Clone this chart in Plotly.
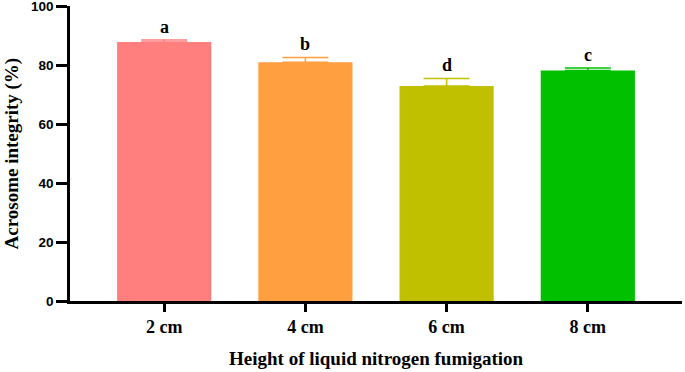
import plotly.graph_objects as go

categories = ["2 cm", "4 cm", "6 cm", "8 cm"]
values = [87.8, 81.0, 72.9, 78.2]
errors = [0.7, 1.6, 2.6, 0.8]
letters = ["a", "b", "d", "c"]
colors = ["#FF7F7F", "#FF9F3F", "#C0C000", "#00C000"]
y_ticks = [0, 20, 40, 60, 80, 100]

fig = go.Figure()
for cat, v, e, c in zip(categories, values, errors, colors):
    fig.add_trace(go.Bar(
        x=[cat], y=[v], marker=dict(color=c, line=dict(width=0)),
        width=0.667,
        error_y=dict(type="data", array=[e], arrayminus=[0], symmetric=False,
                     color=c, thickness=1.5, width=23),
        showlegend=False,
    ))

for cat, v, e, l in zip(categories, values, errors, letters):
    fig.add_annotation(x=cat, y=v + e, text="<b>%s</b>" % l, showarrow=False,
                       yanchor="bottom", yshift=1,
                       font=dict(family="Liberation Serif", size=18, color="black"))

fig.add_annotation(xref="paper", yref="paper", x=0.5, y=-0.195,
                   text="<b>Height of liquid nitrogen fumigation</b>",
                   showarrow=False, xanchor="center", yanchor="middle",
                   font=dict(family="Liberation Serif", size=19, color="black"))
fig.add_annotation(xref="paper", yref="paper", x=-0.0964, y=0.5,
                   text="<b>Acrosome integrity (%)</b>", textangle=-90,
                   showarrow=False, xanchor="center", yanchor="middle",
                   font=dict(family="Liberation Serif", size=19, color="black"))

fig.update_layout(
    width=685, height=372,
    margin=dict(l=70, r=3, t=6, b=71, autoexpand=False),
    plot_bgcolor="white", paper_bgcolor="white",
    bargap=0.333,
    xaxis=dict(
        type="category", range=[-0.667, 3.667], automargin=False,
        showline=True, linecolor="black", linewidth=2.5,
        ticks="outside", ticklen=8, tickwidth=2.5, tickcolor="black",
        tickfont=dict(family="Liberation Serif", size=18, color="black", weight="bold"),
        ticklabeloverflow="allow",
        showgrid=False, zeroline=False,
    ),
    yaxis=dict(
        range=[0, 100.05], tickvals=y_ticks, automargin=False,
        showline=True, linecolor="black", linewidth=2.5,
        ticks="outside", ticklen=11, tickwidth=2.5, tickcolor="black",
        tickfont=dict(family="Liberation Sans", size=13.5, color="black", weight="bold"),
        ticklabeloverflow="allow",
        showgrid=False, zeroline=False,
    ),
)

fig.write_html("out.html", config={"displayModeBar": False},
               post_script="document.body.style.margin='0';document.body.style.overflow='hidden';")
